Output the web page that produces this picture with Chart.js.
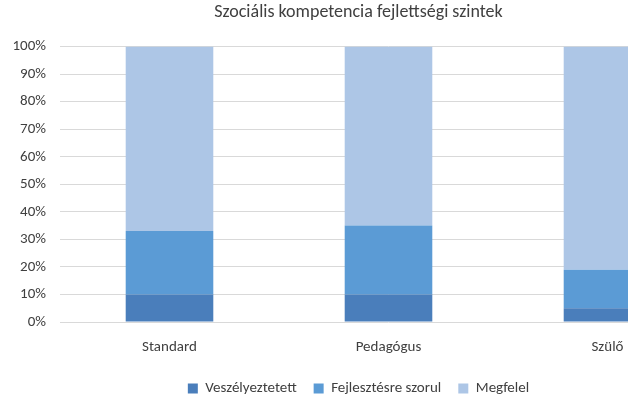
<!DOCTYPE html>
<html>
<head>
<meta charset="utf-8">
<script src="https://cdn.jsdelivr.net/npm/chart.js@4"></script>
<style>
body{margin:0;overflow:hidden;background:#fff}
#wrap{width:720px;height:406px}
</style>
</head>
<body>
<div id="wrap"><canvas id="c" width="720" height="406"></canvas></div>
<script>
var categories = ['Standard', 'Pedagógus', 'Szülő'];
var veszelyeztetett = [10, 10, 5];
var fejlesztesre = [23, 25, 14];
var megfelel = [67, 65, 81];
var seriesNames = ['Veszélyeztetett', 'Fejlesztésre szorul', 'Megfelel'];
var colors = ['#4a7ebb', '#5b9bd5', '#adc6e6'];

Chart.defaults.font.family = 'Calibri, Carlito, Lato, sans-serif';
Chart.defaults.color = '#404040';

new Chart(document.getElementById('c'), {
	type: 'bar',
	data: {
		labels: categories,
		datasets: [veszelyeztetett, fejlesztesre, megfelel].map(function (d, i) {
			return { label: seriesNames[i], data: d, backgroundColor: colors[i], barPercentage: 0.4, categoryPercentage: 1 };
		})
	},
	options: {
		responsive: false,
		animation: false,
		layout: { padding: { left: 0, right: 3, top: 0, bottom: 0 } },
		plugins: {
			title: { display: true, text: 'Szociális kompetencia fejlettségi szintek', font: { size: 18, weight: 'normal' }, padding: { top: 2, bottom: 23 } },
			legend: { position: 'bottom', labels: { boxWidth: 10, boxHeight: 10, font: { size: 15 }, padding: 17 } },
			tooltip: { enabled: false }
		},
		scales: {
			x: { stacked: true, grid: { display: false }, border: { display: false }, ticks: { font: { size: 15 }, padding: 8 } },
			y: {
				stacked: true, min: 0, max: 100,
				ticks: { stepSize: 10, font: { size: 15 }, padding: 14, callback: function (v) { return v + '%'; } },
				grid: { color: '#d9d9d9', drawTicks: false },
				border: { display: false },
				afterFit: function (s) { s.width = 60; }
			}
		}
	}
});
</script>
</body>
</html>
